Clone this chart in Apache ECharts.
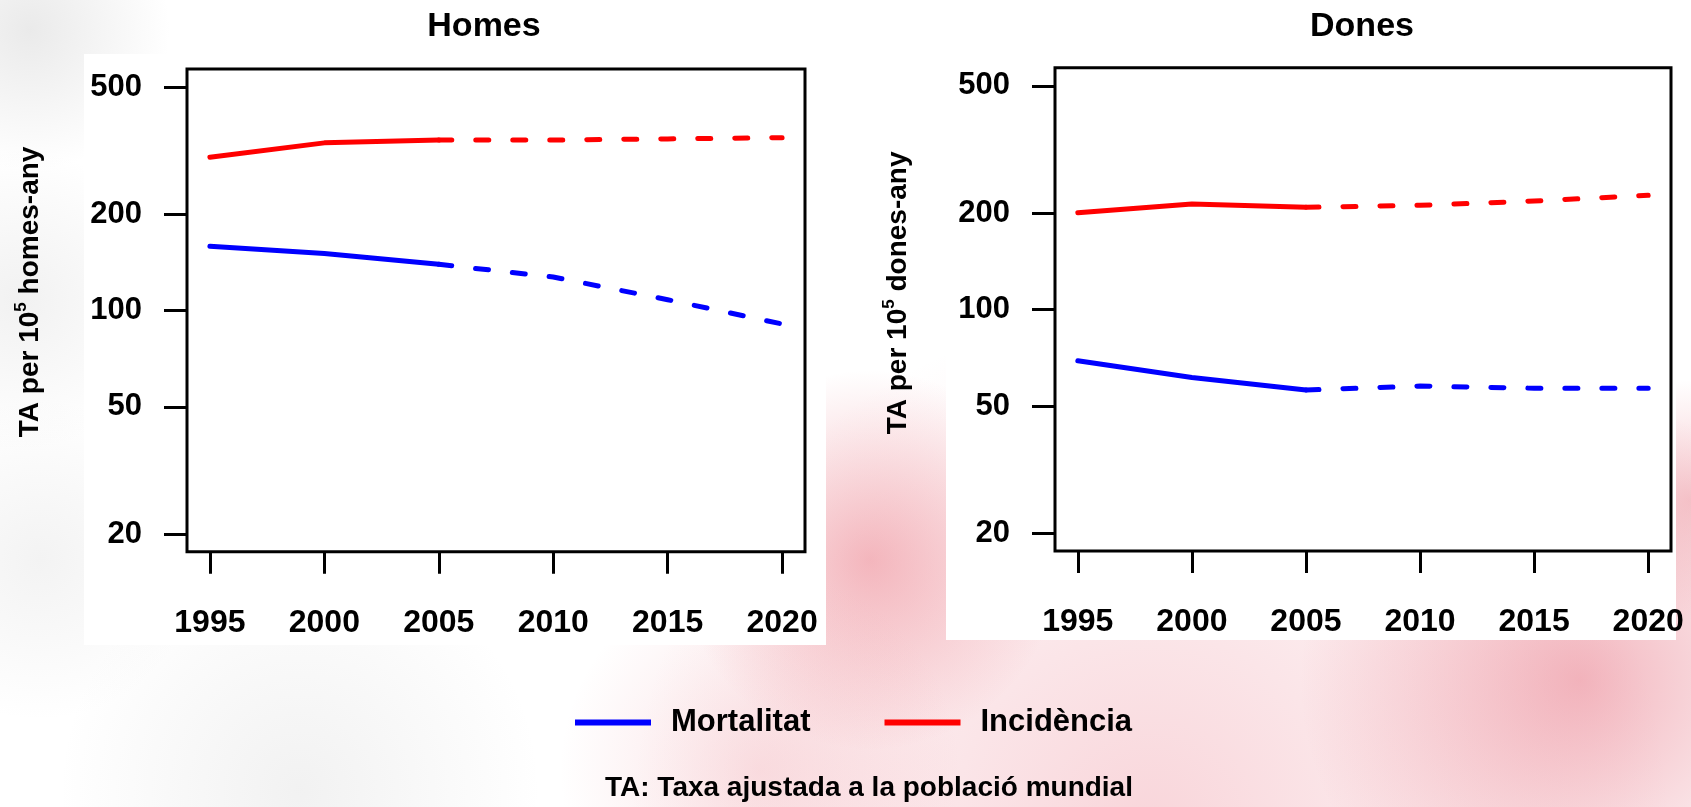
<!DOCTYPE html>
<html>
<head>
<meta charset="utf-8">
<script src="https://cdn.jsdelivr.net/npm/echarts@6/dist/echarts.min.js"></script>
<style>
html,body{margin:0;padding:0;background:#fff;}
#chart{width:1691px;height:807px;}
</style>
</head>
<body>
<div id="chart"></div>
<script>
// ---- data ----
var yearsObserved = [1995, 2000, 2005];
var yearsProjected = [2005, 2010, 2015, 2020];
var xTickYears = [1995, 2000, 2005, 2010, 2015, 2020];
var yTickValues = [20, 50, 100, 200, 500];

var homesMortObs = [159, 151, 139.6];
var homesMortProj = [139.6, 127.4, 108.2, 90.8];
var homesIncObs = [302, 335, 342];
var homesIncProj = [342, 342, 344.6, 347.6];

var donesMortObs = [69.2, 61.4, 56.1];
var donesMortProj = [56.1, 57.7, 56.8, 56.8];
var donesIncObs = [200.8, 213.8, 208.8];
var donesIncProj = [208.8, 211.8, 218.4, 227.6];

var panelTitles = ['Homes', 'Dones'];
var yAxisTitles = ['{t|TA per 10}{s|5}{t| homes-any}', '{t|TA per 10}{s|5}{t| dones-any}'];
var legendNames = ['Mortalitat', 'Incidència'];
var footnote = 'TA: Taxa ajustada a la població mundial';

// ---- helpers ----
var FONT = '"Liberation Sans", Arial, sans-serif';
var BLUE = '#0000ff', RED = '#ff0000';
function pairs(xs, ys) { return xs.map(function (x, i) { return [x, ys[i]]; }); }

function lineSeries(name, color, idx, xs, ys, dashed) {
  return {
    name: name, type: 'line', xAxisIndex: idx, yAxisIndex: idx,
    data: pairs(xs, ys), symbol: 'none', showSymbol: false, silent: true,
    color: color, itemStyle: { color: color },
    lineStyle: { color: color, width: 5, cap: 'round', join: 'round', type: dashed ? [13, 24] : 'solid' },
    z: 3
  };
}

function radial(cx, cy, r, rgb, a) {
  return {
    type: 'circle', silent: true, z: -10,
    shape: { cx: cx, cy: cy, r: r },
    style: { fill: { type: 'radial', x: 0.5, y: 0.5, r: 0.5,
      colorStops: [{ offset: 0, color: 'rgba(' + rgb + ',' + a + ')' }, { offset: 1, color: 'rgba(' + rgb + ',0)' }] } }
  };
}

var axisLabelStyle = { fontFamily: FONT, fontWeight: 'bold', color: '#000' };

function xAxisDef(idx) {
  return {
    type: 'value', gridIndex: idx, min: 1994, max: 2021,
    axisLine: { show: false }, splitLine: { show: false },
    axisTick: { show: true, length: 22, lineStyle: { color: '#000', width: 3 }, customValues: xTickYears },
    axisLabel: Object.assign({ fontSize: 32, margin: 55, customValues: xTickYears,
      formatter: function (v) { return String(v); } }, axisLabelStyle)
  };
}
function yAxisDef(idx, pad) {
  return {
    type: 'log', logBase: 10, gridIndex: idx, min: 17.6, max: 570,
    axisLine: { show: false }, splitLine: { show: false },
    axisTick: { show: true, length: 23, lineStyle: { color: '#000', width: 3 }, customValues: yTickValues },
    axisLabel: Object.assign({ fontSize: 31, margin: 45, customValues: yTickValues,
      formatter: function (v) { return String(v); } }, axisLabelStyle),
    name: yAxisTitles[idx], nameLocation: 'middle', nameRotate: 90, nameGap: 140,
    nameTextStyle: {
      padding: [0, 0, 0, pad],
      rich: {
        t: { fontFamily: FONT, fontWeight: 'bold', fontSize: 28, color: '#000', lineHeight: 34 },
        s: { fontFamily: FONT, fontWeight: 'bold', fontSize: 17, color: '#000', verticalAlign: 'top', lineHeight: 24 }
      }
    }
  };
}

var gridBase = { show: true, borderColor: '#000', borderWidth: 3, backgroundColor: 'transparent', containLabel: false };

var option = {
  backgroundColor: '#ffffff',
  animation: false,
  graphic: [
    // blurred slide background
    radial(30, 30, 140, '160,160,160', 0.22),
    radial(20, 300, 150, '170,170,170', 0.16),
    radial(40, 560, 160, '170,170,170', 0.14),
    radial(300, 790, 240, '160,160,160', 0.14),
    radial(1150, 830, 520, '235,125,140', 0.32),
    radial(1580, 680, 280, '225,80,100', 0.42),
    radial(870, 560, 190, '230,95,110', 0.42),
    radial(760, 770, 200, '238,150,160', 0.28),
    radial(1690, 500, 120, '230,110,125', 0.35),
    // white panels behind the two plots
    { type: 'rect', silent: true, z: -5, shape: { x: 84, y: 54, width: 742, height: 591 }, style: { fill: '#fff' } },
    { type: 'rect', silent: true, z: -5, shape: { x: 946, y: 54, width: 730, height: 586 }, style: { fill: '#fff' } },
    // panel titles
    { type: 'text', silent: true, x: 484, y: 27, style: { text: panelTitles[0], font: 'bold 34px ' + FONT, fill: '#000', align: 'center', verticalAlign: 'middle' } },
    { type: 'text', silent: true, x: 1362, y: 27, style: { text: panelTitles[1], font: 'bold 34px ' + FONT, fill: '#000', align: 'center', verticalAlign: 'middle' } },
    // footnote
    { type: 'text', silent: true, x: 605, y: 788, style: { text: footnote, font: 'bold 28px ' + FONT, fill: '#000', align: 'left', verticalAlign: 'middle' } }
  ],
  legend: {
    data: legendNames, left: 570, top: 702, icon: 'rect', itemWidth: 76, itemHeight: 6, itemGap: 74,
    selectedMode: false,
    textStyle: { fontFamily: FONT, fontWeight: 'bold', fontSize: 31, color: '#000', padding: [0, 0, 0, 15] }
  },
  grid: [
    Object.assign({ left: 187, top: 69.1, width: 618, height: 482.6 }, gridBase),
    Object.assign({ left: 1055, top: 67.7, width: 616, height: 483.4 }, gridBase)
  ],
  xAxis: [xAxisDef(0), xAxisDef(1)],
  yAxis: [yAxisDef(0, 37), yAxisDef(1, 33)],
  series: [
    lineSeries(legendNames[0], BLUE, 0, yearsObserved, homesMortObs, false),
    lineSeries(legendNames[1], RED, 0, yearsObserved, homesIncObs, false),
    lineSeries(legendNames[0], BLUE, 0, yearsProjected, homesMortProj, true),
    lineSeries(legendNames[1], RED, 0, yearsProjected, homesIncProj, true),
    lineSeries(legendNames[0], BLUE, 1, yearsObserved, donesMortObs, false),
    lineSeries(legendNames[1], RED, 1, yearsObserved, donesIncObs, false),
    lineSeries(legendNames[0], BLUE, 1, yearsProjected, donesMortProj, true),
    lineSeries(legendNames[1], RED, 1, yearsProjected, donesIncProj, true)
  ]
};

var chart = echarts.init(document.getElementById('chart'), null, { renderer: 'canvas' });
chart.setOption(option);
</script>
</body>
</html>
